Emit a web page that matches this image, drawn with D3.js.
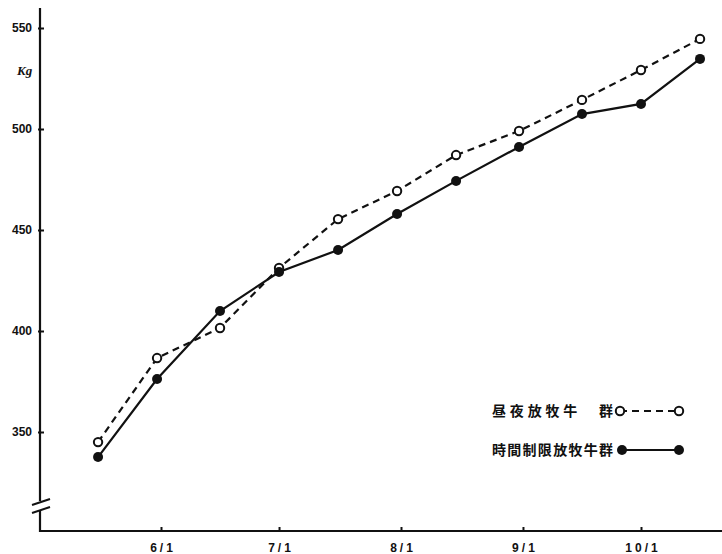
<!DOCTYPE html>
<html>
<head>
<meta charset="utf-8">
<script src="https://cdn.jsdelivr.net/npm/d3@7"></script>
<style>
  html, body { margin: 0; padding: 0; background: #fff; }
  svg { display: block; }
  text { fill: #111; }
</style>
</head>
<body>
<svg id="chart" width="722" height="554"></svg>
<script>
// ---- data ----
const dates = ["1980-05-16","1980-05-31","1980-06-16","1980-07-01","1980-07-16","1980-07-31",
               "1980-08-15","1980-08-31","1980-09-16","1980-10-01","1980-10-16"];
const dayNight = [345.0, 386.6, 401.5, 431.2, 455.4, 469.3, 487.1, 499.0, 514.4, 529.2, 544.6];   // 昼夜放牧牛群
const limited  = [337.6, 376.2, 409.9, 429.2, 440.1, 457.9, 474.3, 491.1, 507.4, 512.4, 534.7];   // 時間制限放牧牛群
const xTickDates = ["1980-06-01","1980-07-01","1980-08-01","1980-09-01","1980-10-01"];
const xTickLabels = ["6/1","7/1","8/1","9/1","10/1"];
const yTicks = [350, 400, 450, 500, 550];
const seriesNames = ["昼夜放牧牛　群", "時間制限放牧牛群"];
const unitLabel = "Kg";

// ---- layout ----
const svg = d3.select("#chart");
const parse = d3.utcParse("%Y-%m-%d");
const axisX = 40, axisBottom = 531, axisTop = 8, rightEdge = 722;

const x = d3.scaleUtc()
  .domain([parse("1980-06-01"), parse("1980-10-01")])
  .range([161, 641]);
const y = d3.scaleLinear().domain([350, 550]).range([432, 28]);

const ink = "#111";

// y axis line with break
svg.append("line").attr("x1", axisX).attr("x2", axisX)
  .attr("y1", axisTop).attr("y2", 501).attr("stroke", ink).attr("stroke-width", 2.2);
svg.append("line").attr("x1", axisX).attr("x2", axisX)
  .attr("y1", 510).attr("y2", axisBottom + 1).attr("stroke", ink).attr("stroke-width", 2.2);
// break marks
[[505, 499], [513, 507]].forEach(([a, b]) => {
  svg.append("line").attr("x1", 32).attr("y1", a).attr("x2", 50).attr("y2", b)
    .attr("stroke", ink).attr("stroke-width", 2);
});

// x axis line
svg.append("line").attr("x1", axisX - 1).attr("x2", rightEdge)
  .attr("y1", axisBottom).attr("y2", axisBottom).attr("stroke", ink).attr("stroke-width", 2);

// y axis ticks/labels
const yAxis = d3.axisLeft(y).tickValues(yTicks).tickSizeInner(-4).tickSizeOuter(0).tickPadding(8);
const gy = svg.append("g").attr("transform", `translate(${axisX},0)`).call(yAxis);
gy.select(".domain").remove();
gy.selectAll(".tick line").attr("stroke", ink).attr("stroke-width", 2).attr("x1", -2);
gy.selectAll(".tick text").attr("font-family", "Liberation Sans, Arial, sans-serif")
  .attr("font-size", 12).attr("font-weight", "bold").attr("fill", "#222");

// x axis ticks/labels
const xAxis = d3.axisBottom(x).tickValues(xTickDates.map(parse))
  .tickFormat((d, i) => xTickLabels[i]).tickSizeInner(-4).tickSizeOuter(0).tickPadding(12);
const gx = svg.append("g").attr("transform", `translate(0,${axisBottom})`).call(xAxis);
gx.select(".domain").remove();
gx.selectAll(".tick line").attr("stroke", ink).attr("stroke-width", 2);
gx.selectAll(".tick text").attr("font-family", "Liberation Sans, Arial, sans-serif")
  .attr("font-size", 12).attr("font-weight", "bold").attr("fill", "#222")
  .attr("letter-spacing", "3px").attr("dx", "1.5px");

// unit label
svg.append("text").attr("x", 17).attr("y", 75).text(unitLabel)
  .attr("font-family", "Liberation Serif, serif").attr("font-style", "italic")
  .attr("font-weight", "bold").attr("font-size", 13);

// series
const pts = (vals) => vals.map((v, i) => [x(parse(dates[i])), y(v)]);
const line = d3.line();

svg.append("path").attr("d", line(pts(dayNight))).attr("fill", "none")
  .attr("stroke", ink).attr("stroke-width", 2.2).attr("stroke-dasharray", "7,5");
svg.append("path").attr("d", line(pts(limited))).attr("fill", "none")
  .attr("stroke", ink).attr("stroke-width", 2.2);

svg.append("g").selectAll("circle").data(pts(dayNight)).join("circle")
  .attr("cx", d => d[0]).attr("cy", d => d[1]).attr("r", 4.2)
  .attr("fill", "#fff").attr("stroke", ink).attr("stroke-width", 2);
svg.append("g").selectAll("circle").data(pts(limited)).join("circle")
  .attr("cx", d => d[0]).attr("cy", d => d[1]).attr("r", 5)
  .attr("fill", ink);

// legend
const legend = svg.append("g");
const rows = [
  {name: seriesNames[0], y: 411, dashed: true, x0: 620, x1: 679},
  {name: seriesNames[1], y: 450, dashed: false, x0: 622, x1: 679}
];
rows.forEach(r => {
  legend.append("text").attr("x", 492).attr("y", r.y + 5).text(r.name)
    .attr("font-family", "Noto Sans CJK JP, sans-serif").attr("font-weight", "bold")
    .attr("font-size", 14).attr("textLength", 121).attr("lengthAdjust", "spacing");
  legend.append("line").attr("x1", r.x0).attr("x2", r.x1).attr("y1", r.y).attr("y2", r.y)
    .attr("stroke", ink).attr("stroke-width", 2.2)
    .attr("stroke-dasharray", r.dashed ? "7,5" : null);
  [r.x0, r.x1].forEach(cx => {
    legend.append("circle").attr("cx", cx).attr("cy", r.y).attr("r", r.dashed ? 4.2 : 5)
      .attr("fill", r.dashed ? "#fff" : ink).attr("stroke", ink).attr("stroke-width", r.dashed ? 2 : 0);
  });
});
</script>
</body>
</html>
